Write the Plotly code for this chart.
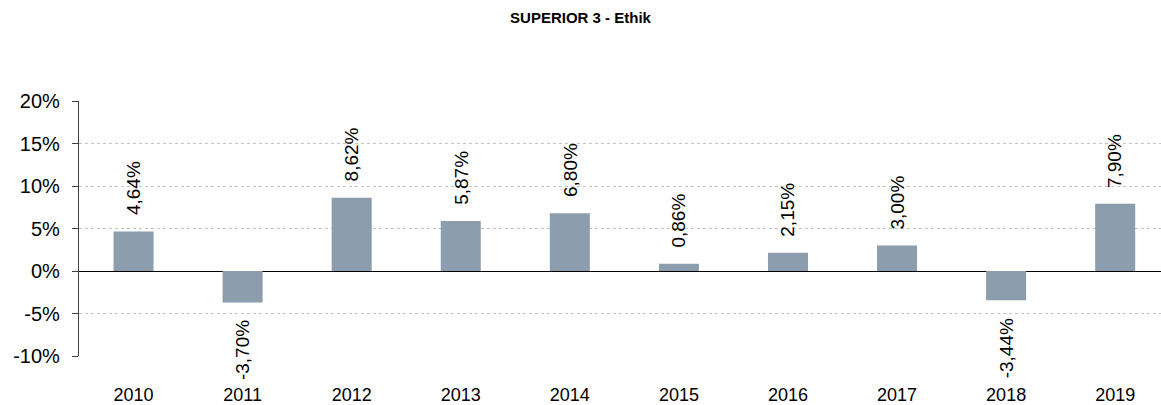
import plotly.graph_objects as go

years = ["2010", "2011", "2012", "2013", "2014", "2015", "2016", "2017", "2018", "2019"]
returns = [4.64, -3.70, 8.62, 5.87, 6.80, 0.86, 2.15, 3.00, -3.44, 7.90]
labels = ["4,64%", "-3,70%", "8,62%", "5,87%", "6,80%", "0,86%", "2,15%", "3,00%", "-3,44%", "7,90%"]
y_ticks = [-10, -5, 0, 5, 10, 15, 20]
y_tick_text = ["-10%", "-5%", "0%", "5%", "10%", "15%", "20%"]

bar_color = "#8C9DAE"
font = "Arial, Liberation Sans, sans-serif"

fig = go.Figure()
fig.add_trace(go.Bar(x=list(range(len(years))), y=returns, width=0.367,
                     marker=dict(color=bar_color, line=dict(width=0)),
                     hoverinfo="skip"))

for i, (v, t) in enumerate(zip(returns, labels)):
    fig.add_annotation(x=i, y=v, text=t, textangle=-90, showarrow=False,
                       xanchor="center",
                       yanchor="bottom" if v >= 0 else "top",
                       yshift=14 if v >= 0 else -16,
                       font=dict(family=font, size=19, color="#000"))

fig.update_layout(
    width=1161, height=405,
    margin=dict(l=79, r=0, t=101, b=49, autoexpand=False),
    paper_bgcolor="white", plot_bgcolor="white",
    showlegend=False,
    title=dict(text="<b>SUPERIOR 3 - Ethik</b>", x=0.5, xanchor="center",
               y=0.955, yanchor="middle",
               font=dict(family=font, size=15, color="#000")),
    font=dict(family=font, size=18, color="#000"),
)
fig.update_xaxes(tickmode="array", tickvals=list(range(len(years))), ticktext=years,
                 range=[-0.5, 9.42], showgrid=False, zeroline=False, showline=False,
                 ticks="", ticklabelstandoff=26, automargin=False,
                 tickfont=dict(family=font, size=18, color="#000"))
fig.update_yaxes(range=[-10, 20], tickmode="array", tickvals=y_ticks, ticktext=y_tick_text,
                 showgrid=True, gridcolor="#c4c4c4", griddash="dot", gridwidth=1,
                 zeroline=True, zerolinecolor="#000", zerolinewidth=1.3,
                 showline=True, linecolor="#404040", linewidth=1.3,
                 ticks="outside", ticklen=6, tickcolor="#404040",
                 ticklabelstandoff=8, automargin=False,
                 tickfont=dict(family=font, size=20, color="#000"))

fig.write_html("out.html",
               config={"displayModeBar": False},
               post_script="document.body.style.margin='0';document.body.style.overflow='hidden';")
